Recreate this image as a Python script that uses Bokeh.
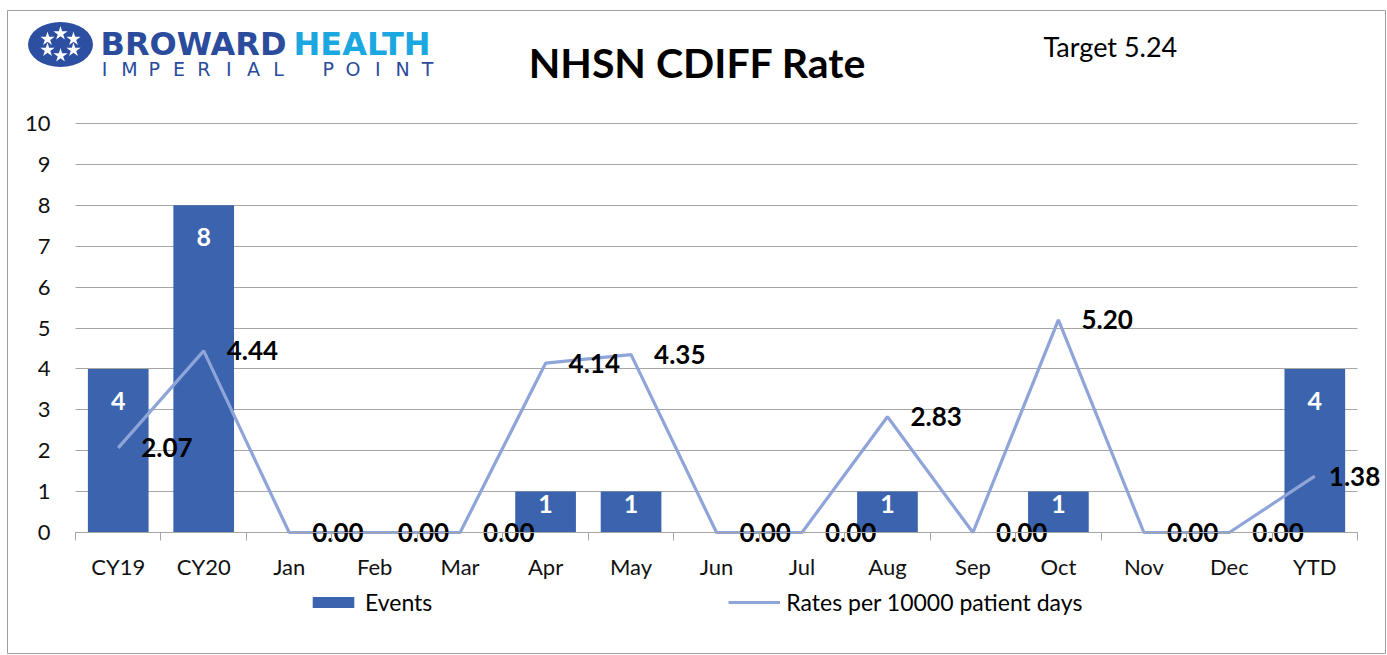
import numpy as np
from bokeh.plotting import figure
from bokeh.models import (ColumnDataSource, Range1d, FixedTicker, Legend, LegendItem, LinearAxis, Grid)
from bokeh.core.properties import value
from bokeh.embed import file_html
from bokeh.resources import INLINE

# ---------------- data ----------------
categories = ["CY19", "CY20", "Jan", "Feb", "Mar", "Apr", "May", "Jun",
              "Jul", "Aug", "Sep", "Oct", "Nov", "Dec", "YTD"]
events = [4, 8, 0, 0, 0, 1, 1, 0, 0, 1, 0, 1, 0, 0, 4]
rates = [2.07, 4.44, 0.00, 0.00, 0.00, 4.14, 4.35, 0.00, 0.00, 2.83, 0.00, 5.20, 0.00, 0.00, 1.38]
y_ticks = [0, 1, 2, 3, 4, 5, 6, 7, 8, 9, 10]
title_text = "NHSN CDIFF Rate"
target_text = "Target 5.24"
legend_events = "Events"
legend_rates = "Rates per 10000 patient days"

BAR = "#3C64AE"
LINE = "#8FA5D9"
GRID = "#A6A6A6"
BORDER = "#A0A0A0"
FONT = "Lato"

# ---------------- geometry (screen pixels of the page) ----------------
W, H = 1386, 654
FL, FT = 7, 10            # frame (outer border) left / top
X0, PXC = 75.0, 85.47     # screen x of category axis start, px per category
Y0, PXY = 532.0, 40.9     # screen y of value 0, px per unit

def dx(sx):
    return (sx - X0) / PXC

def dy(sy):
    return (Y0 - sy) / PXY

n = len(categories)
xs = [i + 0.5 for i in range(n)]

p = figure(width=W, height=H, x_range=Range1d(dx(FL), dx(W)), y_range=Range1d(dy(H), dy(FT)),
           output_backend="svg", toolbar_location=None,
           x_axis_location=None, y_axis_location=None,
           min_border_left=FL, min_border_top=FT, min_border_right=0, min_border_bottom=0)
p.outline_line_color = BORDER
p.outline_line_width = 1
p.xgrid.visible = False
p.ygrid.visible = False

grid = Grid(dimension=1, ticker=FixedTicker(ticks=y_ticks), bounds=(0, 10), cross_bounds=(0, n),
            grid_line_color=GRID, grid_line_width=1)
p.add_layout(grid)

yaxis = LinearAxis(fixed_location=0, ticker=FixedTicker(ticks=y_ticks), bounds=(0, 10))
yaxis.axis_line_color = None
yaxis.major_tick_line_color = None
yaxis.minor_tick_line_color = None
yaxis.major_tick_out = 0
yaxis.major_tick_in = 0
yaxis.major_label_standoff = 25
yaxis.major_label_text_font = FONT
yaxis.major_label_text_font_size = "22px"
yaxis.major_label_text_color = "#111111"
p.add_layout(yaxis, "left")

xaxis = LinearAxis(fixed_location=0, ticker=FixedTicker(ticks=xs, minor_ticks=list(range(n + 1))),
                   bounds=(0, n))
xaxis.major_label_overrides = {x: c for x, c in zip(xs, categories)}
xaxis.major_tick_line_color = None
xaxis.major_tick_out = 0
xaxis.major_tick_in = 0
xaxis.minor_tick_line_color = GRID
xaxis.minor_tick_out = 8
xaxis.minor_tick_in = 0
xaxis.axis_line_color = GRID
xaxis.major_label_standoff = 12
xaxis.major_label_text_font = FONT
xaxis.major_label_text_font_size = "22px"
xaxis.major_label_text_color = "#111111"
p.add_layout(xaxis, "below")

src = ColumnDataSource(dict(x=xs, events=events, rates=rates,
                            rate_lbl=[f"{r:.2f}" for r in rates],
                            roff=[23] * (n - 1) + [14]))

bars = p.vbar(x="x", top="events", width=0.71, source=src, fill_color=BAR, line_color=None)
line = p.line(x="x", y="rates", source=src, line_color=LINE, line_width=3.2)

# event labels (non-zero only), inside end
ev_idx = [i for i, e in enumerate(events) if e > 0]
ev_src = ColumnDataSource(dict(x=[xs[i] for i in ev_idx], y=[events[i] for i in ev_idx],
                               t=[str(events[i]) for i in ev_idx],
                               off=[32 if events[i] >= 2 else 12 for i in ev_idx]))
p.text(x="x", y="y", text="t", source=ev_src, y_offset="off", text_color="white",
       text_font=value(FONT), text_font_style="bold", text_font_size="25px",
       text_align="center", text_baseline="middle")

# rate labels
p.text(x="x", y="rates", text="rate_lbl", source=src, x_offset="roff", text_color="black",
       text_font=value(FONT), text_font_style="bold", text_font_size="26px",
       text_align="left", text_baseline="middle")

# ---------------- header (logo, title, target) ----------------
p.ellipse(x=[dx(60)], y=[dy(44)], width=65, height=45, width_units="screen",
          height_units="screen", fill_color="#2C4FA2", line_color=None)
ang = np.linspace(0, 2 * np.pi, 7)[:-1] + np.pi / 2
p.scatter(x=list(dx(60 + 15 * np.cos(ang))), y=list(dy(44 - 11 * np.sin(ang))), marker="star",
          size=15, fill_color="white", line_color=None)
p.text(x=[dx(100)], y=[dy(43)], text=["BROWARD"], text_font=value("DejaVu Sans"),
       text_font_style="bold", text_font_size="32px", text_color="#2B4C9C",
       text_baseline="middle", text_align="left")
p.text(x=[dx(293)], y=[dy(43)], text=["HEALTH"], text_font=value("DejaVu Sans"),
       text_font_style="bold", text_font_size="32px", text_color="#1BA7E0",
       text_baseline="middle", text_align="left")
sub = list("IMPERIAL POINT")
p.text(x=list(dx(np.linspace(104, 427, len(sub)))), y=[dy(68)] * len(sub), text=sub,
       text_font=value("DejaVu Sans"), text_font_size="19px", text_color="#2B4C9C",
       text_baseline="middle", text_align="center")

p.text(x=[dx(697)], y=[dy(62)], text=[title_text], text_font=value(FONT), text_font_style="bold",
       text_font_size="41px", text_color="black", text_align="center", text_baseline="middle")
p.text(x=[dx(1043)], y=[dy(46)], text=[target_text], text_font=value(FONT),
       text_font_size="27px", text_color="black", text_align="left", text_baseline="middle")

# ---------------- legend ----------------
legend = Legend(items=[LegendItem(label=legend_events, renderers=[bars]),
                       LegendItem(label=legend_rates, renderers=[line])],
                location=(307 - FL, H - 616), orientation="horizontal", padding=0, margin=0,
                spacing=296, glyph_width=52, glyph_height=14, label_standoff=6,
                border_line_color=None, background_fill_alpha=0,
                label_text_font=FONT, label_text_font_size="23px", label_text_color="black")
p.add_layout(legend, "center")

open("out.html", "w").write(file_html(p, INLINE))
